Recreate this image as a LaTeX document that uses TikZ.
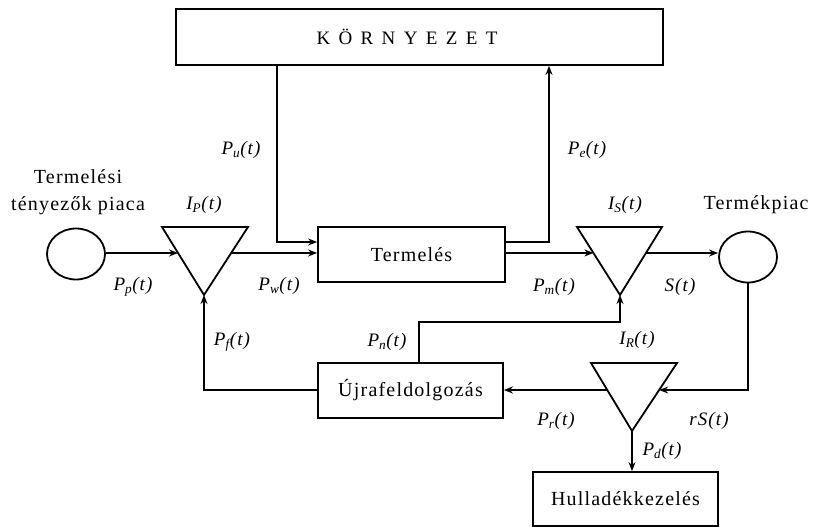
\documentclass[tikz,border=0pt]{standalone}
\usepackage{fontspec}
\setmainfont{Liberation Serif}[LetterSpace=6]
\usetikzlibrary{arrows.meta,calc,shapes.geometric}
\begin{document}
\begin{tikzpicture}[x=1pt,y=-1pt,line width=1.8pt,
  box/.style={draw,rectangle,inner sep=0pt,font=\fontsize{20}{24}\selectfont},
  ring/.style={draw,ellipse,inner sep=0pt,minimum width=58pt,minimum height=51pt},
  flow/.style={-{Stealth[length=9pt,width=7pt]}},
  lab/.style={font=\fontsize{19}{22}\selectfont\itshape,inner sep=0pt},
  txt/.style={font=\fontsize{20}{27}\selectfont,inner sep=0pt,align=center}]
\useasboundingbox (0,0) rectangle (814,527);
% boxes
\node[box,minimum width=487pt,minimum height=56pt] (korny) at (419.5,37) {};
\node[font=\fontsize{19}{22}\selectfont\addfontfeature{LetterSpace=44}] (kt) at (407,37) {KÖRNYEZET};
\node[box,minimum width=187pt,minimum height=55pt] (term) at (411.5,254.5) {Termelés};
\node[box,minimum width=185pt,minimum height=55pt] (ujra) at (410.5,390.5) {Újrafeldolgozás};
\node[box,minimum width=185pt,minimum height=54pt] (hull) at (625.5,499) {Hulladékkezelés};
% circles
\node[ring] (cl) at (76,254) {};
\node[ring] (cr) at (748,257) {};
% triangles
\coordinate (tpl) at (162,227); \coordinate (tpr) at (248,227); \coordinate (tpb) at (204,295);
\coordinate (tsl) at (577,227); \coordinate (tsr) at (662,227); \coordinate (tsb) at (620,295);
\coordinate (trl) at (591,363); \coordinate (trr) at (677,363); \coordinate (trb) at (632,431);
\draw[line join=miter] (tpl) -- (tpr) -- (tpb) -- cycle;
\draw[line join=miter] (tsl) -- (tsr) -- (tsb) -- cycle;
\draw[line join=miter] (trl) -- (trr) -- (trb) -- cycle;
\coordinate (tpin) at ($(tpl)!0.382!(tpb)$);
\coordinate (tpout) at ($(tpr)!0.382!(tpb)$);
\coordinate (tsin) at ($(tsl)!0.382!(tsb)$);
\coordinate (tsout) at ($(tsr)!0.382!(tsb)$);
\coordinate (trin) at ($(trr)!0.397!(trb)$);
\coordinate (trout) at ($(trl)!0.397!(trb)$);
\coordinate (pu) at (277,242);
\coordinate (pe) at (549,242);
\coordinate (pn) at (419,322);
% connectors
\draw[flow] (cl.east |- tpin) -- (tpin);
\draw[flow] (tpout) -- (term.west |- tpout);
\draw[flow] (korny.south -| pu) -- (pu) -- (term.west |- pu);
\draw[flow] (term.east |- pe) -- (pe) -- (korny.south -| pe);
\draw[flow] (term.east |- tsin) -- (tsin);
\draw[flow] (tsout) -- (cr.west |- tsout);
\draw[flow] (cr.south) -- (cr.south |- trin) -- (trin);
\draw[flow] (trout) -- (ujra.east |- trout);
\draw[flow] (ujra.west |- trout) -- (tpb |- trout) -- (tpb);
\draw[flow] (ujra.north -| pn) -- (pn) -- (tsb |- pn) -- (tsb);
\draw[flow] (trb) -- (hull.north -| trb);
% labels
\node[txt] (lmarket) at (78,192) {Termelési\\tényezők piaca};
\node[txt] (lprod) at (756,205) {Termékpiac};
\node[lab] (lip) at (204,205) {I\textsubscript{P}(t)};
\node[lab] (lpp) at (133,287) {P\textsubscript{p}(t)};
\node[lab] (lpw) at (279,286) {P\textsubscript{w}(t)};
\node[lab] (lpu) at (241,150) {P\textsubscript{u}(t)};
\node[lab] (lpe) at (587,150) {P\textsubscript{e}(t)};
\node[lab] (lis) at (625,205) {I\textsubscript{S}(t)};
\node[lab] (lpm) at (554,287) {P\textsubscript{m}(t)};
\node[lab] (ls) at (680,287) {S(t)};
\node[lab] (lpf) at (232,342) {P\textsubscript{f}(t)};
\node[lab] (lpn) at (387,342) {P\textsubscript{n}(t)};
\node[lab] (lir) at (637,340) {I\textsubscript{R}(t)};
\node[lab] (lpr) at (556,421) {P\textsubscript{r}(t)};
\node[lab] (lrs) at (709,421) {rS(t)};
\node[lab] (lpd) at (662,451) {P\textsubscript{d}(t)};
\end{tikzpicture}
\end{document}
